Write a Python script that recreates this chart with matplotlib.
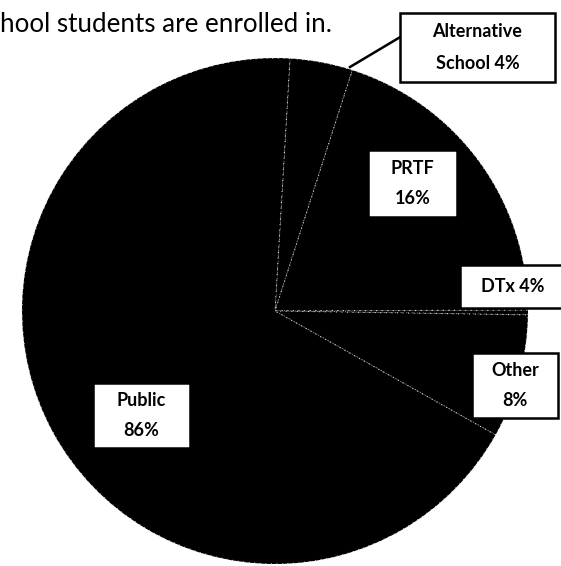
import matplotlib.pyplot as plt
from matplotlib.patches import Rectangle

# slices in the order they run clockwise from just right of 12 o'clock
categories = ["Alternative School", "PRTF", "DTx", "Other", "Public"]
shares = [4.0, 20.0, 0.3, 7.9, 67.8]          # drawn wedge sizes
printed = ["4%", "16%", "4%", "8%", "86%"]       # percentages as printed on the chart
title_text = "hool students are enrolled in."

W, H = 561, 566


def py(y):
    # image pixel row -> axes y
    return H - y


fig = plt.figure(figsize=(W / 100, H / 100), dpi=100)
ax = fig.add_axes([0, 0, 1, 1])

ax.pie(shares, colors=["black"] * len(shares), startangle=90 - 3.4,
       counterclock=False, center=(275, py(311)), radius=253, frame=True,
       wedgeprops=dict(edgecolor="#dddddd", linewidth=0.8, linestyle=(0, (1, 4))))

ax.set_xlim(0, W)
ax.set_ylim(0, H)
ax.set_aspect("equal")
ax.axis("off")

ax.text(0, py(25), title_text, fontsize=18.7, family="Lato",
        ha="left", va="center", color="black")

# label boxes: (x0, y0, x1, y1) in pixels, text lines
boxes = {
    "Alternative School": ((400, 13, 555, 82), ["Alternative", "School " + printed[0]]),
    "PRTF": ((368, 150, 457, 217), ["PRTF", printed[1]]),
    "DTx": ((460, 265, 566, 308), ["DTx " + printed[2]]),
    "Other": ((472, 353, 558, 418), ["Other", printed[3]]),
    "Public": ((93, 383, 190, 448), ["Public", printed[4]]),
}

fs = 13
for name in categories:
    (x0, y0, x1, y1), lines = boxes[name]
    ax.add_patch(Rectangle((x0, py(y1)), x1 - x0, y1 - y0, facecolor="white",
                           edgecolor="black", linewidth=1.8, zorder=5))
    cx = (x0 + x1) / 2
    if len(lines) == 1:
        ax.text(cx, py((y0 + y1) / 2), lines[0], fontsize=fs, family="Lato",
                fontweight="bold", ha="center", va="center", zorder=6)
    else:
        gap = (y1 - y0) / 4
        ax.text(cx, py((y0 + y1) / 2 - gap * 0.9), lines[0], fontsize=fs, family="Lato",
                fontweight="bold", ha="center", va="center", zorder=6)
        ax.text(cx, py((y0 + y1) / 2 + gap * 0.9), lines[1], fontsize=fs, family="Lato",
                fontweight="bold", ha="center", va="center", zorder=6)

# leader line for the Alternative School box
ax.plot([402, 350], [py(36), py(67)], color="black", linewidth=1.8, zorder=4)

fig.savefig("out.png", dpi=100)
